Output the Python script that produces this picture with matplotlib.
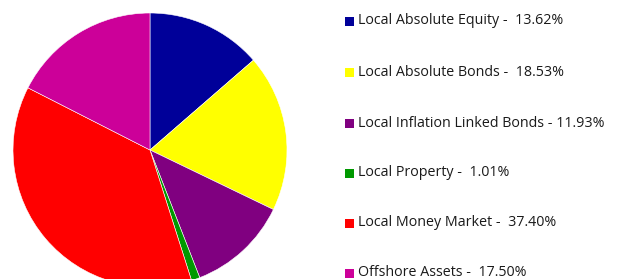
import matplotlib
matplotlib.use("Agg")
import matplotlib.pyplot as plt
from matplotlib.patches import Rectangle

labels = [
    "Local Absolute Equity",
    "Local Absolute Bonds",
    "Local Inflation Linked Bonds",
    "Local Property",
    "Local Money Market",
    "Offshore Assets",
]
values = [13.62, 18.53, 11.93, 1.01, 37.40, 17.50]
separators = [" -  ", " -  ", " - ", " -  ", " -  ", " -  "]
colors = ["#000099", "#ffff00", "#800080", "#009900", "#ff0000", "#cc0099"]

W, H = 618, 279
fig = plt.figure(figsize=(W / 100, H / 100), dpi=100)
fig.patch.set_facecolor("white")

# pie: centre (150,150) px from top-left, radius ~137 px
cx, cy, r = 150, 150, 137
ax = fig.add_axes([(cx - r) / W, (H - cy - r) / H, 2 * r / W, 2 * r / H])
ax.pie(
    values,
    colors=colors,
    startangle=90,
    counterclock=False,
    radius=1,
    wedgeprops=dict(edgecolor="white", linewidth=0.4),
)
ax.set_xlim(-1, 1)
ax.set_ylim(-1, 1)
ax.set_aspect("auto")
ax.axis("off")

# legend
row_y = [21, 72, 123, 173, 223, 273]
for lab, val, sep, col, y in zip(labels, values, separators, colors, row_y):
    fig.patches.append(
        Rectangle(
            (345 / W, (H - y - 4.5) / H),
            9 / W,
            9 / H,
            transform=fig.transFigure,
            facecolor=col,
            edgecolor="none",
        )
    )
    fig.text(
        358 / W,
        (H - y) / H,
        f"{lab}{sep}{val:.2f}%",
        ha="left",
        va="center",
        fontsize=10.3,
        family="Open Sans",
        color="#1a1a1a",
    )

fig.savefig("out.png", dpi=100)
